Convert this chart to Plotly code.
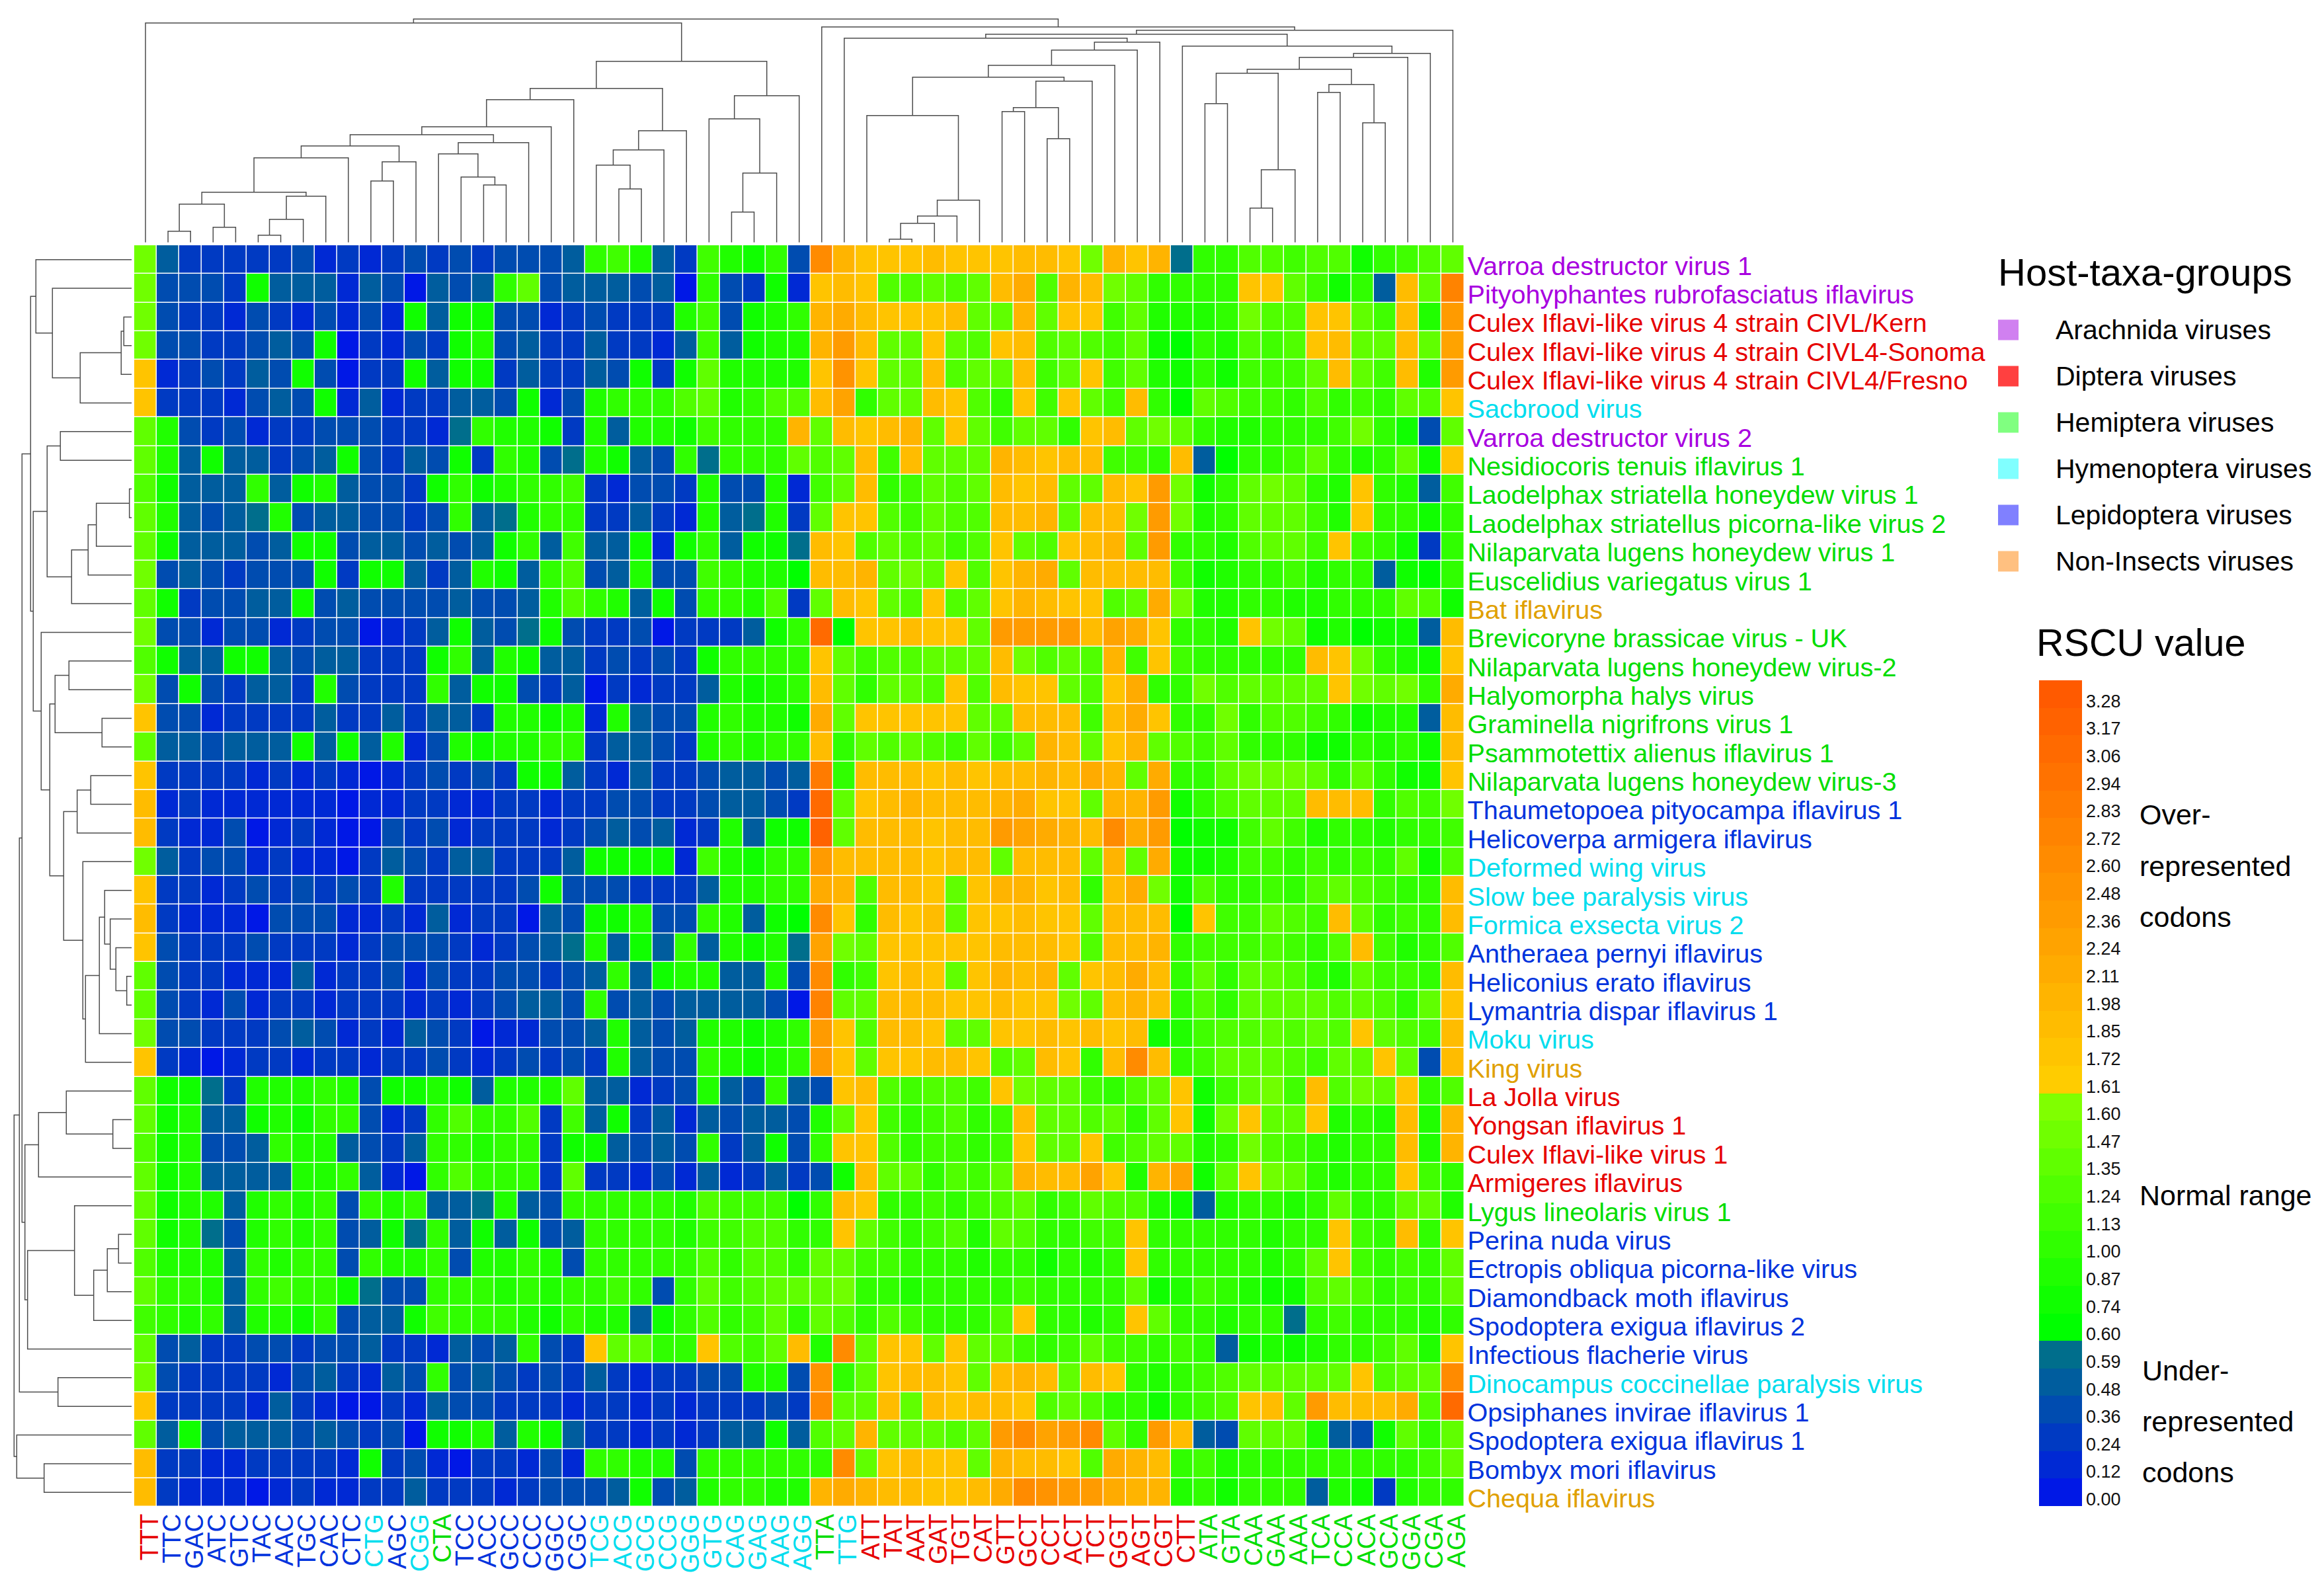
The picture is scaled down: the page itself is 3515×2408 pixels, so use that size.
import numpy as np
import plotly.graph_objects as go

W, H = 3515, 2408

codons = ['TTT','TTC','GAC','ATC','GTC','TAC','AAC','TGC','CAC','CTC','CTG','AGC','CGG','CTA','TCC','ACC','GCC','CCC','GGC','CGC',
          'TCG','ACG','GCG','CCG','GGG','GTG','CAG','GAG','AAG','AGG','TTA','TTG','ATT','TAT','AAT','GAT','TGT','CAT','GTT','GCT',
          'CCT','ACT','TCT','GGT','AGT','CGT','CTT','ATA','GTA','CAA','GAA','AAA','TCA','CCA','ACA','GCA','GGA','CGA','AGA']
codon_groups = ['D','L','L','L','L','L','L','L','L','L','Hy','L','Hy','He','L','L','L','L','L','L',
                'Hy','Hy','Hy','Hy','Hy','Hy','Hy','Hy','Hy','Hy','He','Hy','D','D','D','D','D','D','D','D',
                'D','D','D','D','D','D','D','He','He','He','He','He','He','He','He','He','He','He','He']

viruses = ['Varroa destructor virus 1','Pityohyphantes rubrofasciatus iflavirus','Culex Iflavi-like virus 4 strain CIVL/Kern',
           'Culex Iflavi-like virus 4 strain CIVL4-Sonoma','Culex Iflavi-like virus 4 strain CIVL4/Fresno','Sacbrood virus',
           'Varroa destructor virus 2','Nesidiocoris tenuis iflavirus 1','Laodelphax striatella honeydew virus 1',
           'Laodelphax striatellus picorna-like virus 2','Nilaparvata lugens honeydew virus 1','Euscelidius variegatus virus 1',
           'Bat iflavirus','Brevicoryne brassicae virus - UK','Nilaparvata lugens honeydew virus-2','Halyomorpha halys virus',
           'Graminella nigrifrons virus 1','Psammotettix alienus iflavirus 1','Nilaparvata lugens honeydew virus-3',
           'Thaumetopoea pityocampa iflavirus 1','Helicoverpa armigera iflavirus','Deformed wing virus','Slow bee paralysis virus',
           'Formica exsecta virus 2','Antheraea pernyi iflavirus','Heliconius erato iflavirus','Lymantria dispar iflavirus 1',
           'Moku virus','King virus','La Jolla virus','Yongsan iflavirus 1','Culex Iflavi-like virus 1','Armigeres iflavirus',
           'Lygus lineolaris virus 1','Perina nuda virus','Ectropis obliqua picorna-like virus','Diamondback moth iflavirus',
           'Spodoptera exigua iflavirus 2','Infectious flacherie virus','Dinocampus coccinellae paralysis virus',
           'Opsiphanes invirae iflavirus 1','Spodoptera exigua iflavirus 1','Bombyx mori iflavirus','Chequa iflavirus']
virus_groups = ['A','A','D','D','D','Hy','A','He','He','He','He','He','N','He','He','He','He','He','He','L','L','Hy','Hy','Hy',
                'L','L','L','Hy','N','D','D','D','D','He','L','L','L','L','L','Hy','L','L','L','N']

group_names = ['Arachnida viruses','Diptera viruses','Hemiptera viruses','Hymenoptera viruses','Lepidoptera viruses','Non-Insects viruses']
group_swatch = ['#D080F0','#FF4040','#80FF80','#80FFFF','#8080FF','#FFC080']
label_color = {'A':'#A800E0','D':'#E60000','He':'#00DD00','Hy':'#00DDEE','L':'#0033DD','N':'#E0A000'}

rscu_ticks = [0.00,0.12,0.24,0.36,0.48,0.59,0.60,0.74,0.87,1.00,1.13,1.24,1.35,1.47,1.60,
              1.61,1.72,1.85,1.98,2.11,2.24,2.36,2.48,2.60,2.72,2.83,2.94,3.06,3.17,3.28]

# RSCU, codons TTT..AAG
rscu_left = [
[1.5,.45,.25,.2,.25,.2,.2,.3,.15,.25,.15,.2,.3,.2,.3,.25,.3,.4,.3,.45,.95,1.15,.9,.45,.2,1.1,.85,.75,.95],
[1.5,.3,.35,.3,.25,.8,.45,.5,.45,.15,.5,.3,.05,.45,.3,.45,.95,1.3,.3,.45,.5,.45,.3,.45,.05,1.05,.3,.2,.8],
[1.5,.3,.2,.2,.1,.3,.2,.1,.3,.1,.3,.1,.8,.45,.75,.8,.3,.3,.1,.2,.3,.2,.2,.2,.85,1.1,.3,.8,.9],
[1.45,.3,.35,.2,.2,.3,.45,.3,.8,.05,.2,.1,.3,.25,.8,.9,.3,.45,.2,.2,.5,.2,.2,.1,.45,1.1,.45,.8,.85],
[1.7,.1,.2,.3,.2,.45,.3,.8,.3,.05,.2,.2,.8,.45,.8,.8,.2,.42,.2,.2,.45,.3,.8,.2,.8,1.35,.85,.85,.9],
[1.7,.2,.2,.2,.1,.3,.45,.3,.8,.1,.45,.1,.2,.2,.42,.42,.3,.8,.1,.3,.85,.95,1.0,1.0,1.2,1.35,.85,1.0,1.2],
[1.4,.85,.3,.2,.3,.1,.2,.2,.3,.3,.3,.2,.2,.15,.55,1.0,.9,.85,.8,.2,.9,.42,.85,.9,.8,1.15,1.05,1.05,1.0],
[1.35,.85,.45,.8,.42,.45,.2,.3,.42,.8,.3,.2,.45,.3,.8,.25,.95,.85,.3,.55,.85,.8,.45,.3,.95,.55,.95,1.0,.95],
[1.25,.8,.45,.45,.45,.95,.42,.8,.85,.42,.35,.35,.2,.8,1.05,.8,.9,1.0,1.0,1.15,.2,.1,.3,.3,.2,.9,.3,.3,.85],
[1.3,.85,.45,.3,.45,.55,.85,.3,.42,.45,.3,.35,.2,.3,1.0,.42,.55,.85,1.0,.95,.2,.2,.42,.2,.1,.85,.42,.55,.9],
[1.4,.75,.45,.45,.45,.3,.45,.75,.8,.3,.42,.42,.3,.42,.3,.42,.8,1.05,.42,1.1,.45,.42,.8,.15,.8,1.0,.42,.8,.8],
[1.5,.3,.45,.3,.2,.3,.3,.3,.8,.25,.8,.8,.42,.2,.42,.85,.8,.42,1.05,1.2,.3,.42,.85,.3,.3,1.15,.95,.9,.85],
[1.4,.8,.2,.3,.3,.45,.45,.8,.3,.42,.3,.3,.3,.3,.42,.4,.3,.42,.85,1.2,1.05,.85,.42,.8,.3,1.0,1.0,.85,1.25],
[1.45,.3,.3,.1,.3,.35,.1,.2,.3,.35,.05,.1,.2,.45,.8,.45,.3,.55,.75,.3,.2,.2,.3,.05,.25,.2,.2,.42,.8],
[1.25,.8,.45,.5,.8,.75,.45,.3,.45,.45,.25,.2,.2,.8,.95,.45,.85,.8,.42,.45,.2,.3,.2,.3,.2,.8,.95,1.0,.95],
[1.45,.3,.8,.3,.2,.45,.45,.2,.85,.3,.25,.2,.2,1.05,.45,.8,.8,.3,.2,.45,.05,.2,.1,.2,.2,.45,.85,.75,.85],
[1.75,.3,.3,.1,.2,.2,.2,.2,.45,.2,.25,.45,.2,.42,.42,.2,.9,.85,.75,.85,.1,.85,.45,.3,.35,.85,.95,.85,.85],
[1.35,.45,.45,.3,.45,.45,.45,.8,.45,.8,.45,.85,.1,.3,.85,.8,.85,.9,1.05,.95,.2,.42,.45,.3,.2,.85,.95,.9,1.0],
[1.7,.2,.25,.2,.2,.1,.2,.1,.2,.1,.05,.1,.2,.3,.2,.3,.2,.8,.75,.45,.2,.1,.45,.2,.25,.3,.42,.42,.3],
[1.85,.1,.2,.1,.1,.1,.1,.1,.1,.05,.1,.1,.2,.2,.1,.1,.2,.2,.1,.2,.2,.3,.3,.2,.25,.3,.42,.42,.3],
[1.85,.25,.15,.15,.3,.05,.15,.25,.15,.05,.05,.3,.25,.3,.1,.25,.25,.25,.1,.25,.4,.5,.3,.45,.1,.2,.85,.42,.8],
[1.45,.45,.2,.3,.35,.1,.2,.1,.1,.05,.2,.45,.3,.2,.42,.45,.2,.2,.2,.42,.75,.75,.8,.75,.1,1.1,.85,.8,.95],
[1.7,.2,.25,.1,.2,.3,.2,.35,.25,.3,.2,.85,.2,.2,.2,.2,.2,.35,.8,.3,.3,.3,.25,.2,.25,.45,.85,.9,.95],
[1.85,.2,.1,.1,.1,.05,.3,.35,.3,.1,.15,.2,.15,.45,.1,.2,.2,.05,.45,.3,.75,.8,.85,.3,.35,1.0,.9,.42,.8],
[1.75,.3,.2,.2,.2,.3,.25,.2,.25,.15,.2,.3,.3,.3,.2,.1,.2,.3,.45,.55,.85,.42,.8,.42,1.0,.42,.85,.8,.85],
[1.4,.3,.2,.25,.1,.1,.1,.45,.1,.25,.25,.3,.1,.3,.25,.2,.3,.3,.2,.35,.42,.95,.42,.8,.85,.85,.42,.42,.85],
[1.4,.3,.2,.1,.3,.1,.2,.2,.1,.2,.2,.25,.1,.2,.1,.25,.3,.42,.42,.3,.95,.3,.42,.3,.42,.42,.42,.42,.3],
[1.45,.3,.35,.25,.2,.2,.3,.42,.3,.15,.2,.15,.42,.3,.2,.05,.1,.1,.3,.35,.42,.85,.42,.3,.42,.85,.9,.75,.85],
[1.75,.2,.1,.05,.1,.2,.2,.1,.25,.2,.1,.2,.2,.3,.2,.1,.25,.3,.2,.3,.2,.85,.42,.3,.3,.95,.85,.8,.9],
[1.4,.8,.8,.55,.2,.85,.9,.85,1.0,.85,.3,.8,.8,.85,.8,.42,.85,.9,.85,1.35,.42,.45,.1,.2,.3,.9,.42,.3,1.0],
[1.3,.8,.85,.45,.45,.8,.9,.8,1.05,.95,.3,.1,.2,1.05,1.2,1.0,1.0,1.2,.25,1.1,.45,.8,.2,.45,.1,.42,.3,.42,.42],
[1.25,.8,.85,.3,.3,.45,1.05,.85,.9,.45,.3,.2,.45,1.0,1.05,.85,.95,1.05,.2,.8,.8,.42,.3,.42,.3,1.05,.25,.42,.8],
[1.3,.8,.85,.45,.45,.45,.42,.85,.85,.95,.42,.1,.05,.95,1.25,1.05,.95,1.05,.2,1.3,.2,.25,.1,.3,.1,.42,.15,.25,.42],
[1.3,.8,.85,.85,.45,.85,.95,.9,.95,.3,.95,.9,.95,.45,.45,.55,.9,.42,.3,1.05,1.05,1.05,1.0,.95,.85,1.25,1.1,1.1,1.1],
[1.35,.8,.85,.55,.3,.9,1.0,.85,1.05,.3,.42,.8,.55,1.0,.42,.8,.42,.8,.3,.42,1.05,.95,1.05,.95,.85,1.1,1.15,1.2,1.25],
[1.25,.85,.9,.85,.42,.95,.85,1.0,1.05,.3,.95,.85,.85,.95,.3,.9,.85,1.0,.85,.3,1.05,1.05,1.05,.95,.95,1.2,1.05,1.2,1.25],
[1.35,.95,.95,.85,.42,1.0,1.1,.95,1.0,.8,.55,.3,.3,1.05,.95,.95,.85,.95,.9,.95,1.05,1.1,1.05,.3,1.0,1.3,1.15,1.2,1.35],
[1.1,1.0,.9,.95,.42,.85,.85,.8,.95,.3,.42,.45,.8,1.1,1.05,1.05,.95,.85,.8,1.0,.85,.9,.42,.8,1.0,1.2,1.05,1.1,1.3],
[1.4,.3,.42,.2,.2,.3,.3,.25,.4,.3,.42,.25,.2,.15,.42,.3,.42,.95,.3,.2,1.75,1.4,1.3,1.05,.95,1.7,1.25,1.1,1.3],
[1.45,.3,.25,.25,.2,.2,.15,.3,.42,.2,.15,.42,.3,1.0,.3,.42,.3,.2,.3,.2,.42,.2,.15,.2,.2,.3,.3,.9,.85],
[1.7,.2,.25,.2,.2,.15,.42,.2,.1,.05,.05,.2,.15,.45,.3,.3,.2,.25,.2,.15,.2,.2,.1,.2,.1,.2,.25,.2,.3],
[1.4,.45,.8,.3,.42,.45,.45,.3,.42,.3,.25,.3,.05,.8,.8,.9,.42,.85,.8,.45,.2,.2,.1,.2,.1,.25,.42,.42,.8],
[1.8,.2,.2,.1,.1,.2,.2,.2,.25,.1,.8,.25,.3,.1,.05,.2,.2,.1,.3,.1,1.05,1.0,.85,.85,.3,1.0,1.05,1.05,1.0],
[1.85,.2,.1,.1,.1,.05,.1,.2,.1,.15,.2,.2,.42,.2,.2,.2,.1,.2,.3,.3,.3,.42,.8,.3,.42,.9,.95,.95,.9],
]

# RSCU, codons AGG..AGA
rscu_right = [
[.3,2.6,1.95,1.7,1.75,1.75,1.8,1.7,1.75,1.7,1.85,1.8,1.75,1.5,1.95,1.7,1.95,.55,.95,1.05,1.2,1.2,1.15,1.25,1.2,.8,1,1.1,1.2,1.3],
[.1,1.7,1.9,1.7,1.2,1.25,1.4,1.25,1.4,1.9,2.1,1.25,1.95,1.9,1.45,1.4,.95,1.05,1.05,.95,1.7,1.7,1.3,1.15,.8,.95,.42,1.9,1.35,2.7],
[1.0,1.95,2.1,1.85,1.7,1.75,1.75,1.85,1.4,1.35,2.0,1.35,1.7,1.75,1.1,1.35,.85,.85,.9,1.0,1.45,1.2,1.2,1.7,1.75,1.3,1.1,1.9,.9,2.3],
[.9,1.95,2.3,1.8,1.4,1.4,1.75,1.3,1.25,1.75,1.8,1.25,1.4,1.25,1.15,1.35,.75,.66,1.0,.9,1.25,1.15,1.2,1.75,1.85,1.3,1.3,1.9,1.4,2.2],
[.9,1.7,2.5,1.75,1.35,1.4,1.8,1.25,1.35,1.3,1.8,1.1,1.35,1.7,1.1,1.4,.9,.75,.95,.8,1.1,1.15,1.15,1.35,1.85,1.3,1.15,1.8,.85,2.4],
[1.2,1.9,2.2,1.05,1.35,1.4,1.8,1.75,1.2,1.05,1.7,1.1,1.7,1.3,1.15,1.8,.95,.66,1.35,1.2,1.15,1.15,.95,1.2,1.05,1.15,.95,1.35,1.2,1.7],
[1.95,1.4,1.85,1.75,1.9,1.95,1.4,1.75,1.35,1.15,1.4,1.3,.95,1.75,1.9,1.35,1.45,1.35,1.05,.9,.9,1.0,1.0,1.05,1.1,1.45,1.0,.75,.3,1.4],
[1.4,1.2,1.3,1.9,1.15,1.85,1.4,1.3,1.4,2.0,1.85,1.75,1.85,1.8,1.15,1.1,.95,1.8,.42,.66,1.0,1.0,1.15,1.3,1.0,.9,1.0,1.4,.75,1.75],
[.15,1.1,1.3,1.8,1.05,1.15,1.35,1.25,1.3,1.8,1.75,1.8,1.35,1.3,1.9,1.7,2.4,1.45,.8,.95,1.4,1.45,1.35,1.05,.85,1.7,1.0,.85,.42,1.1],
[.25,1.35,1.7,1.75,1.2,1.15,1.3,1.25,1.25,1.9,1.8,2.0,1.35,1.8,1.9,1.5,2.4,1.45,.85,.95,1.3,1.35,1.3,1.1,.85,1.75,1.0,.95,.8,1.0],
[.55,1.85,1.7,1.2,1.35,1.25,1.3,1.15,1.25,1.75,1.4,1.2,1.7,1.8,1.95,1.4,2.4,1.05,.95,.85,1.2,1.3,1.3,1.1,1.75,1.1,1.0,.8,.2,1.05],
[.66,1.8,1.85,1.95,1.4,1.45,1.35,1.75,1.25,1.75,1.95,2.05,1.4,1.8,1.85,1.9,1.8,1.1,.8,.9,1.05,1.05,1.1,.9,.95,1.05,.42,.75,.66,1.05],
[.25,1.35,1.8,1.75,1.3,1.25,1.75,1.2,1.3,1.75,1.95,1.8,1.75,1.75,1.25,1.3,2.1,1.45,.9,.9,.95,1.0,.85,.85,1.0,1.0,.95,1.4,1.2,.8],
[1.0,3.0,.66,1.75,1.75,1.85,1.7,1.75,1.35,2.3,2.4,2.4,2.3,1.8,2.2,2.1,1.75,1.0,.95,.9,1.7,1.45,1.3,.8,.85,.66,.75,.8,.45,1.9],
[1.0,1.7,1.3,1.1,1.25,1.25,1.4,1.3,1.35,1.8,1.5,1.25,1.4,1.25,2.0,1.1,1.7,1.1,1.0,.95,1.05,.95,1.0,1.85,1.75,1.45,1.05,.9,.75,1.7],
[.95,1.9,1.4,1.05,1.3,1.35,1.25,1.7,1.2,1.8,1.75,1.7,1.4,1.25,1.75,2.15,1.0,.95,1.45,1.2,1.3,1.3,1.3,1.35,1.7,1.45,1.35,1.45,1.05,2.1],
[.8,2.1,1.35,1.7,1.7,1.75,1.7,1.7,1.4,1.3,1.8,1.85,1.85,1.1,1.9,2.1,1.7,.95,1.0,1.45,1.0,1.2,1.25,1.1,.95,.8,.9,.9,.42,1.9],
[.95,1.9,1.0,1.3,1.25,1.35,1.25,1.15,1.35,1.1,1.4,1.95,1.8,1.4,1.7,1.95,1.35,1.2,1.15,1.35,1.0,1.05,.95,.75,.75,.95,.9,1.0,.8,1.85],
[.42,2.8,1.0,1.85,1.85,1.85,1.75,1.8,1.75,1.8,1.9,2.0,1.9,2.05,2.0,1.4,2.15,1.05,1.0,1.4,1.45,1.45,1.45,1.4,.95,1.3,1.0,.8,.75,1.75],
[.2,3.05,1.35,1.75,1.8,1.95,1.8,1.8,1.8,1.95,2.1,1.7,1.7,1.4,2.0,2.0,2.3,.8,1.05,1.2,1.4,1.35,1.4,1.8,1.85,1.8,1.05,1.2,1.1,1.45],
[.8,3.15,1.35,1.8,1.85,1.8,1.75,1.8,1.85,2.4,2.25,2.05,2.0,1.85,2.6,2.1,2.3,.66,.8,.8,1.1,1.35,1.1,.9,.95,1.0,.9,1.05,1.05,1.15],
[.95,2.4,1.85,1.8,1.8,1.8,1.75,1.8,1.8,1.35,1.85,1.85,1.8,1.35,1.95,1.3,2.15,.75,.75,.85,1.15,1.15,.95,1.1,1.0,1.1,1.05,1.35,.8,1.25],
[.95,2.05,1.95,1.25,1.8,1.85,1.75,1.4,1.7,2.0,1.95,1.75,1.85,1.05,1.9,2.05,1.45,.8,1.2,.95,1.05,1.1,1.0,1.2,1.4,1.25,1.1,1.0,.95,1.9],
[.66,2.6,1.7,1.05,1.9,1.75,1.8,1.4,1.75,1.75,1.8,1.75,1.75,1.35,1.9,1.9,1.9,.66,1.7,1.1,1.15,1.35,1.25,1.15,1.9,1.35,1.05,1.1,.95,1.85],
[.55,2.2,1.45,1.35,1.75,1.75,1.75,1.75,1.75,1.9,1.8,1.8,1.75,1.25,1.85,1.85,1.95,.95,1.1,1.15,1.1,1.2,1.15,1.05,1.2,1.8,1.1,.85,.95,1.2],
[.35,2.55,1.05,1.15,1.75,1.8,1.75,1.35,1.75,2.0,1.8,1.95,1.4,1.7,1.85,2.05,1.85,1.05,1.3,1.0,1.35,1.3,1.2,.95,.9,1.3,1.1,1.15,1.05,1.8],
[.05,2.7,1.35,1.4,1.8,1.85,1.8,1.7,1.75,1.9,1.75,1.75,1.45,1.3,1.85,1.95,1.85,.95,1.2,1.0,1.3,1.3,1.35,1.4,1.2,1.3,1.2,1.05,1.4,1.7],
[1.0,2.4,1.7,1.2,1.8,1.8,1.75,1.35,1.35,1.75,1.75,1.85,1.75,1.85,1.75,1.8,.8,.9,1.15,1.25,1.25,1.3,1.25,1.3,1.2,1.75,1.3,1.2,1.1,1.8],
[1.05,2.3,1.75,1.4,1.75,1.75,1.8,1.8,1.75,1.2,1.4,1.8,1.7,1.05,1.85,2.65,1.85,.95,1.1,1.3,1.3,1.3,1.25,1.1,1.3,1.3,1.7,1.35,.35,1.8],
[.5,.3,1.75,1.8,1.2,1.15,1.25,1.25,1.15,1.75,1.45,1.4,1.35,1.15,1.05,1.2,1.4,1.75,.8,1.15,1.35,1.45,1.15,1.8,1.25,1.5,1.3,1.75,.95,1.25],
[.3,.85,1.3,1.75,1.15,1.05,1.15,1.2,1.05,1.15,1.9,1.4,1.35,1.25,1.4,1.0,1.3,1.75,.8,1.45,1.75,1.35,1.3,1.75,.85,.95,.85,1.8,.9,1.95],
[.3,1.05,1.75,1.75,1.25,.95,1.1,1.1,1.0,1.1,1.75,1.35,1.35,1.75,1.15,1.2,1.3,1.4,.85,1.05,1.45,1.2,1.15,1.05,.9,1.0,.95,1.85,.85,1.95],
[.2,.35,.8,1.9,1.3,1.3,1.05,1.2,1.15,1.3,1.95,1.8,1.85,2.2,1.75,.85,2.0,2.2,.75,1.35,1.75,1.45,1.4,1.0,.85,1.0,.95,1.75,1.1,.95],
[.66,1.0,1.9,1.75,1.05,1.05,1.1,1.05,1.1,1.2,1.3,1.05,1.1,1.3,1.2,1.25,.9,.8,.42,.9,1.0,.95,.9,.95,1.3,1.05,1.0,1.4,1.4,.85],
[.95,1.05,1.75,1.3,1.1,1.0,1.15,1.2,.85,1.3,1.2,1.0,1.05,1.1,1.1,1.75,.95,.95,1.05,1.0,1.0,.85,.95,1.05,1.75,1.1,1.0,1.8,.95,1.75],
[.95,1.35,1.3,1.15,1.1,1.05,1.05,1.0,.9,1.0,1.0,.75,1.0,.85,1.05,1.75,.95,.95,1.05,1.0,1.0,.85,1.05,1.35,1.7,1.1,1.05,1.15,.95,1.3],
[1.4,1.4,1.45,1.05,.95,.9,1.0,1.0,.95,1.0,1.1,1.0,1.05,1.0,1.0,1.35,.75,.85,1.1,1.05,.9,.8,.75,1.25,1.35,1.2,1.05,1.1,1.0,1.35],
[1.05,1.4,1.2,1.0,1.25,1.15,1.05,1.05,1.05,1.2,1.75,1.05,1.0,.9,.95,1.75,1.4,1.05,1.05,.9,.95,.95,.55,1.05,1.1,1.0,.95,1.0,.85,1.05],
[1.8,.85,2.6,1.4,1.75,1.75,1.35,1.75,1.35,1.3,1.1,1.05,1.15,1.35,1.1,1.15,.95,1.15,1.05,.42,.8,.9,.8,.85,1.0,.95,1.1,1.3,.9,1.75],
[.3,2.5,1.05,1.35,1.75,1.85,1.8,1.75,1.3,1.9,1.95,1.8,1.4,1.9,1.75,.95,.85,.95,1.1,1.2,1.4,1.3,1.3,1.35,1.35,1.75,1.2,1.3,1.3,2.55],
[.2,2.6,1.3,1.3,1.8,1.35,1.8,1.75,1.8,1.9,1.7,1.2,1.3,1.25,1.05,.95,.8,1.05,1.1,1.2,1.75,1.8,1.3,2.4,1.85,1.85,1.85,2.1,1.2,3.1],
[.45,1.2,1.3,1.95,1.3,1.35,1.3,1.25,1.3,2.4,2.6,2.2,2.3,2.6,1.4,1.0,2.4,1.9,.42,.3,1.35,1.4,1.3,.9,.42,.3,.75,1.4,1.05,1.3],
[1.05,1.05,2.6,1.35,1.75,1.8,1.75,1.75,1.3,1.95,1.85,1.8,1.75,1.25,2.15,1.95,1.8,1.0,1.1,.85,.95,1.05,1.05,1.05,1.05,1.0,.95,.95,1.15,1.3],
[.85,2.0,2.1,1.95,1.9,1.85,1.75,1.7,1.85,2.05,2.55,2.5,2.4,2.3,2.15,1.95,2.0,.85,.95,.8,.95,.95,1.0,.42,.85,.75,.2,.85,.95,1.05],
]

# dendrograms: (left, right, merge height), leaves are column/row numbers
c_a = ((1, 2, 17), (3, 4, 23), 58)
c_b = (((5, 6, 11), 7, 35), 8, 70)
c_d = ((c_a, c_b, 76), 9, 128)
c_e = ((10, 11, 93), 12, 122)
c_g = ((13, (14, (15, 16, 87), 99), 134), 17, 151)
c_j = ((((c_d, c_e, 146), c_g, 163), 18, 175), 19, 216)
c_k = (((20, (21, 22, 81), 117), 23, 140), 24, 169)
c_m = ((25, ((26, 27, 46), 28, 105), 187), 29, 222)
c_left = (0, ((c_j, c_k, 233), c_m, 274), 332)
c_p = (32, ((((33, 34, 5), 35, 29), 36, 40), 37, 64), 192)
c_q = (((38, 39, 198), (40, 41, 157), 204), 42, 244)
c_v = (31, ((((c_p, c_q, 250), 43, 268), 44, 291), 45, 303), 309)
c_w = ((47, 48, 210), ((49, 50, 52), 51, 110), 256)
c_x = ((52, 53, 227), (54, 55, 181), 239)
c_bb = (46, (((c_w, c_x, 262), 56, 280), 57, 286), 297)
col_tree = (c_left, (30, ((c_v, c_bb, 315), 58, 321), 326), 338)

r_a = (0, (1, (((2, 3, 12), 4, 16), 5, 78), 120), 145)
r_b = ((6, 7, 108), ((((8, 9, 3.6), 10, 53.6), 11, 66), 12, 91), 128)
r_1 = ((14, 15, 95), (16, 17, 45), 116)
r_2 = ((18, 19, 62), 20, 82.6)
r_3 = (22, (23, (24, (25, 26, 7.6), 24), 32.6), 41)
r_5 = (21, ((r_3, 27, 49), 28, 70), 74)
r_8 = (13, (r_1, (r_2, r_5, 103), 124), 137)
r_10 = (r_a, (r_b, r_8, 149), 153)
s_2 = ((29, (30, 31, 28.6), 99), 32, 141)
s_4 = ((33, (((34, 35, 20), 36, 37), 37, 57.6), 86.6), 38, 157.6)
r_12 = ((r_10, (s_2, s_4, 161.6), 166), (39, 40, 111.6), 170)
row_tree = (r_12, (41, (42, 43, 132.6), 174), 178)


def tree_lines(node, pos, hgt):
    if not isinstance(node, tuple):
        return node, 0
    p1, h1 = tree_lines(node[0], pos, hgt)
    p2, h2 = tree_lines(node[1], pos, hgt)
    pos += [p1, p1, p2, p2, None]
    hgt += [h1, node[2], node[2], h2, None]
    return (p1 + p2) / 2, node[2]


def px(x):
    return x / W


def py(y):
    return 1 - y / H


rscu = np.hstack([np.array(rscu_left), np.array(rscu_right)])
ticks = np.array(rscu_ticks)
band = np.abs(ticks[None, None, :] - rscu[:, :, None] - 1e-6).argmin(axis=2)

# one colour per legend band
band_rgb = np.vstack([
    np.linspace((0, 24, 230), (0, 110, 140), 6),
    np.linspace((0, 255, 0), (128, 255, 0), 9),
    np.linspace((255, 204, 0), (255, 90, 0), 15),
]).round().astype(int)
colorscale = []
for k, c in enumerate(band_rgb):
    col = f'rgb({c[0]},{c[1]},{c[2]})'
    colorscale += [[k / 30, col], [(k + 1) / 30, col]]

HEAT_L, HEAT_R, HEAT_T, HEAT_B = 203, 2214.5, 371, 2279
TOP_BASE, LEFT_BASE = 366.7, 199.3

fig = go.Figure()
fig.add_trace(go.Heatmap(
    z=band, x=codons, y=viruses, customdata=rscu,
    hovertemplate='%{y}<br>%{x}: %{customdata}<extra></extra>',
    colorscale=colorscale, zmin=-0.5, zmax=29.5, xgap=1.5, ygap=1.5,
    colorbar=dict(
        thickness=65.3, thicknessmode='pixels', len=(2278 - 1029) / H, lenmode='fraction',
        x=px(3083.7), xanchor='left', xpad=0, y=py(2278), yanchor='bottom', ypad=0,
        outlinewidth=0, ticks='', ticklen=0,
        tickmode='array', tickvals=[i - 0.25 for i in range(30)],
        ticktext=[f'{t:.2f}' for t in rscu_ticks],
        tickfont=dict(size=27, color='#111111'),
    ),
))

xs, ys = [], []
tree_lines(col_tree, xs, ys)
fig.add_trace(go.Scatter(x=xs, y=ys, xaxis='x2', yaxis='y2', mode='lines', hoverinfo='skip',
                         line=dict(color='#4d4d4d', width=1.5), showlegend=False))
xs, ys = [], []
tree_lines(row_tree, ys, xs)
fig.add_trace(go.Scatter(x=xs, y=ys, xaxis='x3', yaxis='y3', mode='lines', hoverinfo='skip',
                         line=dict(color='#4d4d4d', width=1.5), showlegend=False))

annotations = [
    dict(text='Host-taxa-groups', x=px(3020), y=py(412), size=58),
    dict(text='RSCU value', x=px(3078), y=py(972), size=57.5),
    dict(text='Over-', x=px(3234), y=py(1232), size=43),
    dict(text='represented', x=px(3234), y=py(1310), size=43),
    dict(text='codons', x=px(3234), y=py(1387), size=43),
    dict(text='Normal range', x=px(3234), y=py(1808), size=43),
    dict(text='Under-', x=px(3238), y=py(2073), size=43),
    dict(text='represented', x=px(3238), y=py(2150), size=43),
    dict(text='codons', x=px(3238), y=py(2227), size=43),
]
shapes = []
for i, (name, swatch) in enumerate(zip(group_names, group_swatch)):
    yc = 499 + 70 * i
    annotations.append(dict(text=name, x=px(3107), y=py(yc), size=41))
    shapes.append(dict(type='rect', xref='paper', yref='paper', x0=px(3022), x1=px(3053),
                       y0=py(yc - 15.5), y1=py(yc + 15.5), fillcolor=swatch, line_width=0))

fig.update_layout(
    width=W, height=H, margin=dict(l=0, r=0, t=0, b=0, autoexpand=False), autosize=False,
    paper_bgcolor='white', plot_bgcolor='white',
    font=dict(family='Liberation Sans', color='black'),
    xaxis=dict(domain=[px(HEAT_L), px(HEAT_R)], range=[-0.5, 58.5], tickmode='array', tickvals=codons,
               ticktext=[f'<span style="color:{label_color[g]}">{c}</span>' for c, g in zip(codons, codon_groups)],
               tickangle=-90, tickfont=dict(size=38.5), ticks='', showgrid=False, zeroline=False, showline=False,
               ticklabelshift=6, ticklabelstandoff=2),
    yaxis=dict(domain=[py(HEAT_B), py(HEAT_T)], range=[43.5, -0.5], side='right', tickmode='array', tickvals=viruses,
               ticktext=[f'<span style="color:{label_color[g]}">{v}</span>' for v, g in zip(viruses, virus_groups)],
               tickfont=dict(size=39.6), ticks='', showgrid=False, zeroline=False, showline=False,
               ticklabelshift=-9, ticklabelstandoff=4),
    xaxis2=dict(domain=[px(HEAT_L), px(HEAT_R)], range=[-0.5, 58.5], visible=False),
    yaxis2=dict(domain=[py(TOP_BASE), 1], range=[0, TOP_BASE], visible=False),
    xaxis3=dict(domain=[0, px(LEFT_BASE)], range=[LEFT_BASE, 0], visible=False),
    yaxis3=dict(domain=[py(HEAT_B), py(HEAT_T)], range=[43.5, -0.5], visible=False),
    annotations=[dict(text=a['text'], x=a['x'], y=a['y'], xref='paper', yref='paper', xanchor='left', yanchor='middle',
                      showarrow=False, font=dict(size=a['size'], color='black')) for a in annotations],
    shapes=shapes,
)

fig.write_html("out.html", post_script="document.body.style.margin='0';", config=dict(displayModeBar=False))
